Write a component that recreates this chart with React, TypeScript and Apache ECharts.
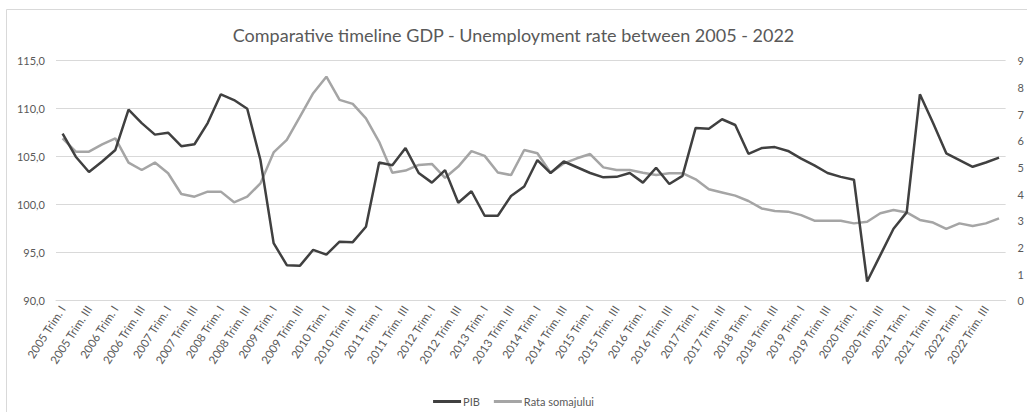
import React, { useEffect, useRef } from "react";
import * as echarts from "echarts";

const years = [2005, 2006, 2007, 2008, 2009, 2010, 2011, 2012, 2013, 2014, 2015, 2016, 2017, 2018, 2019, 2020, 2021, 2022];
const quarters = ["I", "II", "III", "IV"];
const categories: string[] = [];
years.forEach((y) => quarters.forEach((q) => categories.push(`${y} Trim. ${q}`)));

const pib = [
  107.4, 105.0, 103.4, 104.5, 105.7, 109.9, 108.5, 107.3, 107.5, 106.1, 106.3, 108.5, 111.5, 110.9, 110.0, 104.65, 96.0, 93.7, 93.65,
  95.3, 94.8, 96.15, 96.1, 97.7, 104.4, 104.1, 105.9, 103.3, 102.3, 103.6, 100.2, 101.4, 98.85, 98.85, 100.9, 101.9, 104.65,
  103.3, 104.5, 103.9, 103.3, 102.85, 102.9, 103.3, 102.3, 103.85, 102.15, 103.0, 108.0, 107.9, 108.9, 108.3, 105.3, 105.9, 106.0,
  105.6, 104.8, 104.1, 103.3, 102.9, 102.6, 92.0, 94.75, 97.5, 99.2, 111.5, 108.5, 105.35, 104.65, 103.95, 104.4, 104.9,
];

const rataSomajului = [
  6.09, 5.59, 5.59, 5.86, 6.09, 5.18, 4.9, 5.18, 4.78, 4.0, 3.9, 4.09, 4.09, 3.69, 3.9, 4.4, 5.56, 6.03, 6.9,
  7.78, 8.4, 7.53, 7.38, 6.84, 5.96, 4.8, 4.88, 5.09, 5.13, 4.61, 5.03, 5.61, 5.43, 4.81, 4.71, 5.65, 5.53,
  4.8, 5.15, 5.34, 5.5, 5.0, 4.9, 4.9, 4.8, 4.71, 4.78, 4.78, 4.55, 4.18, 4.06, 3.94, 3.74, 3.46, 3.36,
  3.34, 3.21, 3.0, 3.0, 3.0, 2.9, 2.96, 3.28, 3.4, 3.31, 3.03, 2.93, 2.69, 2.9, 2.8, 2.9, 3.09,
];

const FONT = "Lato, 'Open Sans', sans-serif";
const TXT = "#595959";

export default function App() {
  const ref = useRef<HTMLDivElement>(null);
  useEffect(() => {
    if (!ref.current) return;
    const chart = echarts.init(ref.current, undefined, { renderer: "svg" });
    chart.setOption({
      animation: false,
      backgroundColor: "#ffffff",
      textStyle: { fontFamily: FONT, color: TXT },
      graphic: [
        {
          type: "rect",
          shape: { x: 6.5, y: 9.5, width: 1040, height: 430 },
          style: { fill: "none", stroke: "#d9d9d9", lineWidth: 1 },
          silent: true,
          z: -1,
        },
      ],
      title: {
        text: "Comparative timeline GDP - Unemployment rate between 2005 - 2022",
        left: "center",
        top: 21,
        textStyle: { fontFamily: FONT, fontSize: 18, fontWeight: "normal", color: TXT },
      },
      legend: {
        top: 391,
        left: "center",
        padding: [5, 5, 2, 5],
        icon: "rect",
        itemWidth: 28,
        itemHeight: 3,
        itemGap: 14,
        textStyle: { fontFamily: FONT, fontSize: 11, color: TXT, padding: [0, 0, 0, -3] },
        data: ["PIB", "Rata somajului"],
      },
      grid: { left: 56, right: 20, top: 60.7, bottom: 111.3, containLabel: false },
      xAxis: {
        type: "category",
        data: categories,
        boundaryGap: true,
        axisLine: { show: true, lineStyle: { color: "#d9d9d9", width: 1 } },
        axisTick: { show: false },
        axisLabel: {
          interval: 1,
          rotate: 57,
          fontSize: 11.5,
          color: TXT,
          fontFamily: FONT,
          margin: 6,
        },
      },
      yAxis: [
        {
          type: "value",
          min: 90,
          max: 115,
          interval: 5,
          axisLine: { show: false },
          axisTick: { show: false },
          splitLine: { lineStyle: { color: "#d9d9d9", width: 1 } },
          axisLabel: {
            fontSize: 11,
            color: TXT,
            fontFamily: FONT,
            margin: 11,
            formatter: (v: number) => v.toFixed(1).replace(".", ","),
          },
        },
        {
          type: "value",
          min: 0,
          max: 9,
          interval: 1,
          axisLine: { show: false },
          axisTick: { show: false },
          splitLine: { show: false },
          axisLabel: { fontSize: 11, color: TXT, fontFamily: FONT, margin: 12 },
        },
      ],
      series: [
        {
          name: "PIB",
          type: "line",
          yAxisIndex: 0,
          data: pib,
          symbol: "none",
          lineStyle: { color: "#404040", width: 2.5 },
          itemStyle: { color: "#404040" },
          z: 3,
        },
        {
          name: "Rata somajului",
          type: "line",
          yAxisIndex: 1,
          data: rataSomajului,
          symbol: "none",
          lineStyle: { color: "#a5a5a5", width: 2.5 },
          itemStyle: { color: "#a5a5a5" },
          z: 2,
        },
      ],
    });
    return () => chart.dispose();
  }, []);
  return (
    <div
      ref={ref}
      style={{ position: "fixed", left: 0, top: 0, width: 1027, height: 412, background: "#fff" }}
    />
  );
}
